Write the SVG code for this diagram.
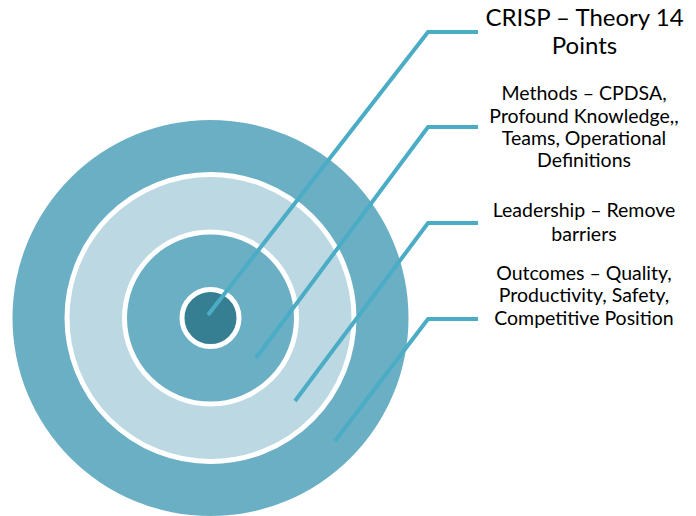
<svg xmlns="http://www.w3.org/2000/svg" width="696" height="516" viewBox="0 0 696 516">
  <style>
    .ring { stroke: #ffffff; stroke-width: 5; }
    .lead { fill: none; stroke: #4bacc6; stroke-width: 4; stroke-linejoin: miter; }
    .lbl { font-family: Lato, "Open Sans", sans-serif; font-size: 19.5px; fill: #000000; text-anchor: middle; }
    .ttl { font-size: 24px; }
  </style>
  <rect width="696" height="516" fill="#ffffff"/>

  <g id="target">
    <circle id="ring-outcomes" cx="210.5" cy="318" r="198" fill="#6aafc4"/>
    <circle id="ring-leadership" class="ring" cx="210.5" cy="318" r="143.5" fill="#bcd8e2"/>
    <circle id="ring-methods" class="ring" cx="210.5" cy="318" r="86" fill="#6aafc4"/>
    <circle id="ring-core" class="ring" cx="210.5" cy="318" r="28.5" fill="#367e92"/>
  </g>

  <g id="connectors">
    <polyline class="lead" stroke-width="3.5" points="208,315 428,32 478,32"/>
    <polyline class="lead" points="256,358 428,127 478,127"/>
    <polyline class="lead" points="295,401 428,223 478,223"/>
    <polyline class="lead" points="335,441 428,319 478,319"/>
  </g>

  <g id="label-crisp">
    <text class="lbl ttl" x="584.5" y="26">CRISP – Theory 14</text>
    <text class="lbl ttl" x="584.5" y="54">Points</text>
  </g>
  <g id="label-methods">
    <text class="lbl" x="584" y="100">Methods – CPDSA,</text>
    <text class="lbl" x="584" y="123">Profound Knowledge,,</text>
    <text class="lbl" x="584" y="145">Teams, Operational</text>
    <text class="lbl" x="584" y="167">Definitions</text>
  </g>
  <g id="label-leadership">
    <text class="lbl" x="584" y="217">Leadership – Remove</text>
    <text class="lbl" x="584" y="241">barriers</text>
  </g>
  <g id="label-outcomes">
    <text class="lbl" x="584" y="280">Outcomes – Quality,</text>
    <text class="lbl" x="584" y="302">Productivity, Safety,</text>
    <text class="lbl" x="584" y="325">Competitive Position</text>
  </g>
</svg>
